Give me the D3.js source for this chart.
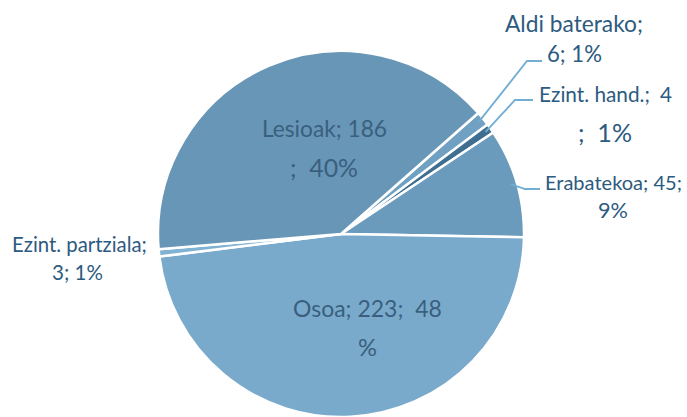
<!DOCTYPE html>
<html>
<head>
<meta charset="utf-8">
<script src="https://cdn.jsdelivr.net/npm/d3@7"></script>
<style>
  body { margin: 0; background: #fff; }
  svg text { font-family: Lato, "Noto Sans", sans-serif; }
</style>
</head>
<body>
<svg id="canvas" width="687" height="417"></svg>
<script>
// slice data, clockwise starting from the upper right
let names = ['Aldi baterako', 'Ezint. hand.', 'Erabatekoa', 'Osoa', 'Ezint. partziala', 'Lesioak'];
let values = [6, 4, 45, 223, 3, 186];
let percents = [1, 1, 9, 48, 1, 40];
let colors = ['#71a1c2', '#3f6f90', '#6a9bbd', '#79aacb', '#80b3d3', '#6896b6'];

let canvas = d3.select('#canvas');

const cx = 341, cy = 234, radius = 183;
const startDeg = 48.6;

let pie = d3.pie()
  .sort(null)
  .value(d => d)
  .startAngle(startDeg * Math.PI / 180)
  .endAngle(startDeg * Math.PI / 180 + 2 * Math.PI);

let arcs = pie(values);

let arc = d3.arc().innerRadius(0).outerRadius(radius);
let edgeArc = d3.arc().innerRadius(radius - 6).outerRadius(radius - 6);

let g = canvas.append('g').attr('transform', `translate(${cx}, ${cy})`);

g.selectAll('path')
  .data(arcs)
  .enter()
  .append('path')
  .attr('d', arc)
  .attr('fill', (d, i) => colors[i])
  .attr('stroke', '#fff')
  .attr('stroke-width', 2.5)
  .attr('stroke-linejoin', 'round');

// label layout placed by hand like the original
// each line: [text, x, baseline y, width to fit]
const labelColor = '#2d5a80';
const innerColor = '#3a5f7e';

let labelLines = [
  [[names[0] + ';', 505, 32, 138], [values[0] + '; ' + percents[0] + '%', 547, 62, 55]],
  [[names[1] + ';', 539, 102, 111], [String(values[1]), 660, 102, 12], [';  ' + percents[1] + '%', 578, 142, 54]],
  [[names[2] + '; ' + values[2] + ';', 545, 190, 137], [percents[2] + '%', 598, 218, 30]],
  [[names[3] + '; ' + values[3] + ';  ' + percents[3], 293, 317, 149], ['%', 358, 356, 19]],
  [[names[4] + ';', 12, 252, 135], [values[4] + '; ' + percents[4] + '%', 52, 280, 51]],
  [[names[5] + '; ' + values[5], 262, 137, 125], [';  ' + percents[5] + '%', 290, 177, 68]]
];

labelLines.forEach((lines, i) => {
  let inside = (i === 3 || i === 5);
  lines.forEach(l => {
    let t = canvas.append('text')
      .attr('x', l[1])
      .attr('y', l[2])
      .attr('font-size', 20)
      .attr('fill', inside ? innerColor : labelColor)
      .style('white-space', 'pre')
      .text(l[0]);
    let w = t.node().getComputedTextLength();
    if (w > 0) t.attr('font-size', 20 * l[3] / w);
  });
});

// leader lines: from slice edge to label
let leaders = [
  { i: 0, elbow: [527, 61], end: [542, 61] },
  { i: 1, elbow: [515, 100], end: [533, 100] },
  { i: 2, elbow: [525, 189], end: [540, 189] }
];

leaders.forEach(l => {
  let c = edgeArc.centroid(arcs[l.i]);
  let pts = [[cx + c[0], cy + c[1]], l.elbow, l.end];
  canvas.append('path')
    .attr('d', d3.line()(pts))
    .attr('fill', 'none')
    .attr('stroke', '#72aed3')
    .attr('stroke-width', 1.8);
});
</script>
</body>
</html>
